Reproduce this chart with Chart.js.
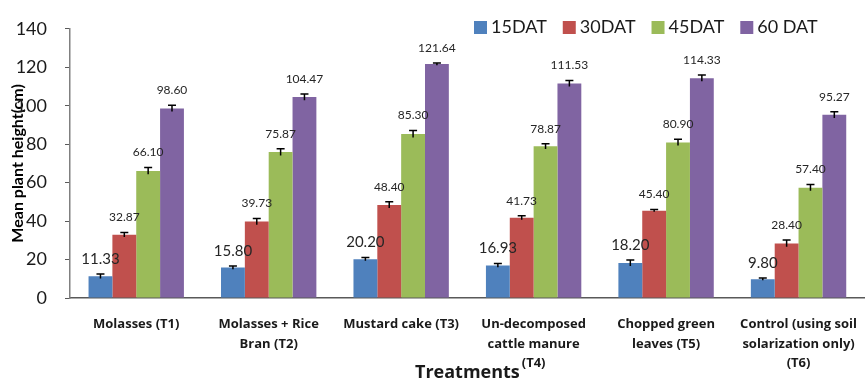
<!DOCTYPE html>
<html>
<head>
<meta charset="utf-8">
<script src="https://cdn.jsdelivr.net/npm/chart.js@4/dist/chart.umd.min.js"></script>
<style>
  html, body { margin: 0; padding: 0; background: #ffffff; }
  #wrap { width: 866px; height: 378px; }
</style>
</head>
<body>
<div id="wrap"><canvas id="chart" width="866" height="378"></canvas></div>
<script>
// Treatments on the x axis (multi-line labels)
const categories = [
  ["Molasses (T1)"],
  ["Molasses + Rice", "Bran (T2)"],
  ["Mustard cake (T3)"],
  ["Un-decomposed", "cattle manure", "(T4)"],
  ["Chopped green", "leaves (T5)"],
  ["Control (using soil", "solarization only)", "(T6)"]
];

const seriesNames = ["15DAT", "30DAT", "45DAT", "60 DAT"];

// Mean plant height (cm) by days after transplanting
const dat15 = [11.33, 15.80, 20.20, 16.93, 18.20, 9.80];
const dat30 = [32.87, 39.73, 48.40, 41.73, 45.40, 28.40];
const dat45 = [66.10, 75.87, 85.30, 78.87, 80.90, 57.40];
const dat60 = [98.60, 104.47, 121.64, 111.53, 114.33, 95.27];

// Standard errors
const err15 = [1.2, 0.8, 0.8, 1.0, 1.6, 0.6];
const err30 = [1.2, 1.6, 1.6, 1.0, 0.6, 1.8];
const err45 = [1.8, 1.8, 1.8, 1.4, 1.6, 1.6];
const err60 = [1.6, 1.6, 0.6, 1.6, 1.6, 1.6];

const yTicks = [0, 20, 40, 60, 80, 100, 120, 140];

const colors = ["#4F81BD", "#C0504D", "#9BBB59", "#8064A2"];
const values = [dat15, dat30, dat45, dat60];
const errors = [err15, err30, err45, err60];
const labelFonts = ["15px Lato", "12px Lato", "12px Lato", "12px Lato"];

// Error bar caps above each bar
const errorBars = {
  id: "errorBars",
  afterDatasetsDraw(chart) {
    const ctx = chart.ctx;
    const y = chart.scales.y;
    ctx.save();
    ctx.strokeStyle = "#000000";
    ctx.lineWidth = 1.5;
    chart.data.datasets.forEach((ds, di) => {
      const meta = chart.getDatasetMeta(di);
      meta.data.forEach((bar, i) => {
        const v = ds.data[i];
        const e = ds.errors[i];
        const top = y.getPixelForValue(v + e);
        const bot = y.getPixelForValue(v - e);
        ctx.beginPath();
        ctx.moveTo(bar.x, bot);
        ctx.lineTo(bar.x, top);
        ctx.moveTo(bar.x - 4, top);
        ctx.lineTo(bar.x + 4, top);
        ctx.stroke();
      });
    });
    ctx.restore();
  }
};

// Value labels above the error bars
const valueLabels = {
  id: "valueLabels",
  afterDatasetsDraw(chart) {
    const ctx = chart.ctx;
    const y = chart.scales.y;
    ctx.save();
    ctx.fillStyle = "#262626";
    ctx.textAlign = "center";
    ctx.textBaseline = "middle";
    chart.data.datasets.forEach((ds, di) => {
      const meta = chart.getDatasetMeta(di);
      ctx.font = labelFonts[di];
      meta.data.forEach((bar, i) => {
        const v = ds.data[i];
        const top = y.getPixelForValue(v + ds.errors[i]);
        ctx.fillText(v.toFixed(2), bar.x, top - 15);
      });
    });
    ctx.restore();
  }
};

// Legend in the top-right corner
const legendBox = {
  id: "legendBox",
  afterDraw(chart) {
    const ctx = chart.ctx;
    ctx.save();
    ctx.font = "18px Lato";
    ctx.textBaseline = "middle";
    ctx.textAlign = "left";
    let x = 474;
    const yMid = 27;
    chart.data.datasets.forEach((ds) => {
      ctx.fillStyle = ds.backgroundColor;
      ctx.fillRect(x, yMid - 6, 13, 13);
      ctx.fillStyle = "#1a1a1a";
      ctx.fillText(ds.label, x + 17, yMid);
      x += 17 + ctx.measureText(ds.label).width + 16;
    });
    ctx.restore();
  }
};

const chart = new Chart(document.getElementById("chart"), {
  type: "bar",
  data: {
    labels: categories,
    datasets: seriesNames.map((name, i) => ({
      label: name,
      data: values[i],
      errors: errors[i],
      backgroundColor: colors[i],
      borderWidth: 0,
      barPercentage: 1.0,
      categoryPercentage: 0.72
    }))
  },
  options: {
    responsive: false,
    devicePixelRatio: 1,
    animation: false,
    layout: { padding: { top: 19, right: 0, left: 0, bottom: 0 } },
    plugins: {
      legend: { display: false },
      tooltip: { enabled: false }
    },
    scales: {
      x: {
        grid: { display: false },
        border: { display: true, color: "#595959", width: 1.5 },
        ticks: {
          color: "#1a1a1a",
          font: { family: "Open Sans", size: 13, weight: "bold", lineHeight: 1.5 },
          padding: 9,
          maxRotation: 0,
          autoSkip: false
        },
        title: {
          display: true,
          text: "Treatments",
          color: "#1a1a1a",
          font: { family: "Open Sans", size: 18, weight: "bold", lineHeight: 1 },
          padding: { top: 0, bottom: -4 }
        },
        afterFit(scale) { scale.height = 80; }
      },
      y: {
        min: 0,
        max: 140,
        afterBuildTicks(scale) { scale.ticks = yTicks.map(v => ({ value: v })); },
        grid: { display: true, drawOnChartArea: false, tickLength: 5, color: "#595959" },
        border: { display: true, color: "#808080", width: 1.5 },
        ticks: {
          color: "#1a1a1a",
          font: { family: "Lato", size: 18 },
          padding: 18
        },
        title: {
          display: true,
          text: "Mean plant height(cm)",
          color: "#000000",
          font: { family: "Lato", size: 16, weight: "bold", lineHeight: 1.2 },
          padding: { top: 8, bottom: 0 }
        },
        afterFit(scale) { scale.width = 70; }
      }
    }
  },
  plugins: [errorBars, valueLabels, legendBox]
});
</script>
</body>
</html>
